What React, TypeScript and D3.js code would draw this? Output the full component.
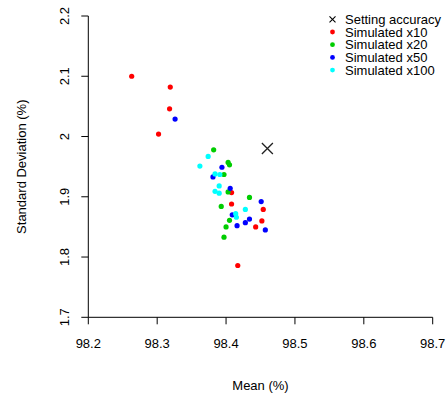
import React from "react";
import * as d3 from "d3";

const x10Mean = [98.263, 98.319, 98.318, 98.302, 98.408, 98.408, 98.454, 98.452, 98.443, 98.417];
const x10Sd = [2.100, 2.082, 2.046, 2.004, 1.907, 1.888, 1.879, 1.860, 1.850, 1.786];
const x20Mean = [98.382, 98.403, 98.405, 98.397, 98.403, 98.434, 98.393, 98.405, 98.400, 98.397];
const x20Sd = [1.978, 1.957, 1.953, 1.937, 1.908, 1.899, 1.884, 1.861, 1.850, 1.833];
const x50Mean = [98.326, 98.394, 98.381, 98.406, 98.451, 98.409, 98.434, 98.428, 98.416, 98.457];
const x50Sd = [2.029, 1.949, 1.933, 1.914, 1.892, 1.870, 1.863, 1.857, 1.852, 1.845];
const x100Mean = [98.374, 98.362, 98.384, 98.391, 98.390, 98.384, 98.390, 98.428, 98.414, 98.415];
const x100Sd = [1.967, 1.951, 1.938, 1.937, 1.918, 1.909, 1.906, 1.879, 1.872, 1.866];
const settingMean = 98.46;
const settingSd = 1.98;

const xTicks = [98.2, 98.3, 98.4, 98.5, 98.6, 98.7];
const yTicks = [1.7, 1.8, 1.9, 2.0, 2.1, 2.2];
const seriesNames = ["Simulated x10", "Simulated x20", "Simulated x50", "Simulated x100"];
const seriesColors = ["#FF0000", "#00CD00", "#0000FF", "#00FFFF"];

const W = 448;
const H = 396;
const FONT = "'Liberation Sans', Arial, Helvetica, sans-serif";

export default function App() {
  const x = d3.scaleLinear().domain([98.2, 98.7]).range([88.3, 432.7]);
  const y = d3.scaleLinear().domain([1.7, 2.2]).range([317.3, 16]);
  const series = [
    [x10Mean, x10Sd],
    [x20Mean, x20Sd],
    [x50Mean, x50Sd],
    [x100Mean, x100Sd],
  ];
  const fmt = (v: number) => d3.format("")(+v.toFixed(1));
  const cs = 5.5;
  const sx = x(settingMean);
  const sy = y(settingSd);
  const legX = 332.5;
  const legY0 = 19.3;
  const legDy = 12.7;
  return (
    <svg width={W} height={H} style={{ position: "absolute", left: 0, top: 0, background: "#fff" }} fontFamily={FONT}>
      <rect width={W} height={H} fill="#fff" />
      {/* x axis */}
      <line x1={x(98.2)} x2={x(98.7)} y1={y(1.7)} y2={y(1.7)} stroke="#000" />
      {xTicks.map((t) => (
        <g key={"xt" + t}>
          <line x1={x(t)} x2={x(t)} y1={y(1.7)} y2={y(1.7) + 7} stroke="#000" />
          <text x={x(t)} y={347.5} fontSize={13} textAnchor="middle">{fmt(t)}</text>
        </g>
      ))}
      {/* y axis */}
      <line x1={x(98.2)} x2={x(98.2)} y1={y(1.7)} y2={y(2.2)} stroke="#000" />
      {yTicks.map((t) => (
        <g key={"yt" + t}>
          <line x1={x(98.2) - 7} x2={x(98.2)} y1={y(t)} y2={y(t)} stroke="#000" />
          <text transform={`translate(68.5,${y(t)}) rotate(-90)`} fontSize={13} textAnchor="middle">{fmt(t)}</text>
        </g>
      ))}
      <text x={260.5} y={389.5} fontSize={13} textAnchor="middle">Mean (%)</text>
      <text transform={`translate(25.5,166.7) rotate(-90)`} fontSize={13} textAnchor="middle">Standard Deviation (%)</text>
      {/* points */}
      {series.map(([ms, ss], i) =>
        ms.map((m, j) => (
          <circle key={`p${i}-${j}`} cx={x(m)} cy={y(ss[j])} r={2.6} fill={seriesColors[i]} />
        ))
      )}
      {/* setting accuracy */}
      <path d={`M${sx - cs},${sy - cs}L${sx + cs},${sy + cs}M${sx - cs},${sy + cs}L${sx + cs},${sy - cs}`} stroke="#222" strokeWidth={1.3} fill="none" />
      {/* legend */}
      <path d={`M${legX - 3},${legY0 - 3}L${legX + 3},${legY0 + 3}M${legX - 3},${legY0 + 3}L${legX + 3},${legY0 - 3}`} stroke="#000" strokeWidth={1.1} />
      <text x={345} y={legY0 + 4.6} fontSize={13}>Setting accuracy</text>
      {seriesNames.map((n, i) => (
        <g key={n}>
          <circle cx={legX} cy={legY0 + legDy * (i + 1)} r={2.4} fill={seriesColors[i]} />
          <text x={345} y={legY0 + legDy * (i + 1) + 4.6} fontSize={13}>{n}</text>
        </g>
      ))}
    </svg>
  );
}
